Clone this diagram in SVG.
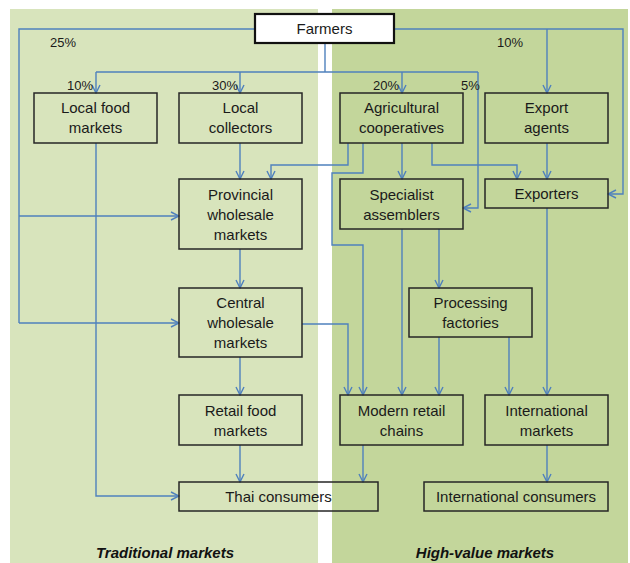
<svg xmlns="http://www.w3.org/2000/svg" width="630" height="563" viewBox="0 0 630 563">
  <style>
    .box { fill: none; stroke: #262626; stroke-width: 1.5; }
    .lbl { font-family: "Liberation Sans", Arial, sans-serif; font-size: 15px; fill: #1a1a1a; text-anchor: middle; }
    .pct { font-family: "Liberation Sans", Arial, sans-serif; font-size: 13px; fill: #1a1a1a; }
    .zone { font-family: "Liberation Sans", Arial, sans-serif; font-size: 15px; font-weight: bold; font-style: italic; fill: #111; text-anchor: middle; }
    .edge { fill: none; stroke: #4f81bd; stroke-width: 1.4; marker-end: url(#arr); }
    .line { fill: none; stroke: #4f81bd; stroke-width: 1.4; }
  </style>
  <defs>
    <marker id="arr" viewBox="0 0 10 10" refX="9" refY="5" markerWidth="10" markerHeight="10" markerUnits="userSpaceOnUse" orient="auto">
      <path d="M1,1 L9,5 L1,9" fill="none" stroke="#4f81bd" stroke-width="1.4"/>
    </marker>
  </defs>

  <rect width="630" height="563" fill="#ffffff"/>
  <!-- market zones -->
  <rect x="10" y="9" width="308" height="554" fill="#d8e4bc"/>
  <rect x="332" y="9" width="296" height="554" fill="#c3d69b"/>

  <g id="connectors">
    <!-- Farmers: outer left trunk -->
    <path class="line" d="M255,29 H19 V323"/>
    <path class="edge" d="M19,216 H179"/>
    <path class="edge" d="M19,323 H179"/>
    <!-- Farmers: outer right trunk -->
    <path class="edge" d="M394,29 H623 V194 H608"/>
    <path class="edge" d="M547,29 V93"/>
    <!-- Farmers: middle bus -->
    <path class="line" d="M325,43 V72"/>
    <path class="line" d="M96,72 H478"/>
    <path class="edge" d="M96,72 V93"/>
    <path class="edge" d="M240,72 V93"/>
    <path class="edge" d="M402,72 V93"/>
    <path class="edge" d="M478,72 V208 H463"/>
    <!-- traditional chain -->
    <path class="edge" d="M96,143 V496 H179"/>
    <path class="edge" d="M240,143 V179"/>
    <path class="edge" d="M240,249 V288"/>
    <path class="edge" d="M240,357 V395"/>
    <path class="edge" d="M240,445 V482"/>
    <!-- cooperatives outflows -->
    <path class="edge" d="M348,143 V165 H271 V179"/>
    <path class="edge" d="M363,143 V173 H332 V245 H363 V395"/>
    <path class="edge" d="M402,143 V179"/>
    <path class="edge" d="M432,143 V165 H517 V179"/>
    <path class="edge" d="M547,143 V179"/>
    <!-- high-value chain -->
    <path class="edge" d="M302,324 H348 V395"/>
    <path class="edge" d="M402,229 V395"/>
    <path class="edge" d="M439,229 V288"/>
    <path class="edge" d="M439,337 V395"/>
    <path class="edge" d="M509,337 V395"/>
    <path class="edge" d="M547,208 V395"/>
    <path class="edge" d="M363,445 V482"/>
    <path class="edge" d="M547,445 V482"/>
  </g>

  <g id="farmers">
    <rect x="255" y="14" width="139" height="29" fill="#ffffff" stroke="#111" stroke-width="2.2"/>
    <text class="lbl" x="324.5" y="34">Farmers</text>
  </g>
  <g id="local-food-markets">
    <rect class="box" x="34" y="93" width="123" height="50"/>
    <text class="lbl" x="95.5" y="113">Local food</text>
    <text class="lbl" x="95.5" y="133">markets</text>
  </g>
  <g id="local-collectors">
    <rect class="box" x="179" y="93" width="123" height="50"/>
    <text class="lbl" x="240.5" y="113">Local</text>
    <text class="lbl" x="240.5" y="133">collectors</text>
  </g>
  <g id="agricultural-cooperatives">
    <rect class="box" x="340" y="93" width="123" height="50"/>
    <text class="lbl" x="401.5" y="113">Agricultural</text>
    <text class="lbl" x="401.5" y="133">cooperatives</text>
  </g>
  <g id="export-agents">
    <rect class="box" x="485" y="93" width="123" height="50"/>
    <text class="lbl" x="546.5" y="113">Export</text>
    <text class="lbl" x="546.5" y="133">agents</text>
  </g>
  <g id="provincial-wholesale">
    <rect class="box" x="179" y="179" width="123" height="70"/>
    <text class="lbl" x="240.5" y="200">Provincial</text>
    <text class="lbl" x="240.5" y="220">wholesale</text>
    <text class="lbl" x="240.5" y="240">markets</text>
  </g>
  <g id="specialist-assemblers">
    <rect class="box" x="340" y="179" width="123" height="50"/>
    <text class="lbl" x="401.5" y="200">Specialist</text>
    <text class="lbl" x="401.5" y="220">assemblers</text>
  </g>
  <g id="exporters">
    <rect class="box" x="485" y="179" width="123" height="29"/>
    <text class="lbl" x="546.5" y="199">Exporters</text>
  </g>
  <g id="central-wholesale">
    <rect class="box" x="179" y="288" width="123" height="69"/>
    <text class="lbl" x="240.5" y="308">Central</text>
    <text class="lbl" x="240.5" y="328">wholesale</text>
    <text class="lbl" x="240.5" y="348">markets</text>
  </g>
  <g id="processing-factories">
    <rect class="box" x="409" y="288" width="123" height="49"/>
    <text class="lbl" x="470.5" y="308">Processing</text>
    <text class="lbl" x="470.5" y="328">factories</text>
  </g>
  <g id="retail-food-markets">
    <rect class="box" x="179" y="395" width="123" height="50"/>
    <text class="lbl" x="240.5" y="416">Retail food</text>
    <text class="lbl" x="240.5" y="436">markets</text>
  </g>
  <g id="modern-retail-chains">
    <rect class="box" x="340" y="395" width="123" height="50"/>
    <text class="lbl" x="401.5" y="416">Modern retail</text>
    <text class="lbl" x="401.5" y="436">chains</text>
  </g>
  <g id="international-markets">
    <rect class="box" x="485" y="395" width="123" height="50"/>
    <text class="lbl" x="546.5" y="416">International</text>
    <text class="lbl" x="546.5" y="436">markets</text>
  </g>
  <g id="thai-consumers">
    <rect class="box" x="179" y="482" width="199" height="29"/>
    <text class="lbl" x="278.5" y="502">Thai consumers</text>
  </g>
  <g id="international-consumers">
    <rect class="box" x="424" y="482" width="184" height="29"/>
    <text class="lbl" x="516" y="502">International consumers</text>
  </g>

  <g id="shares">
    <text class="pct" x="50" y="47">25%</text>
    <text class="pct" x="67" y="90">10%</text>
    <text class="pct" x="212" y="90">30%</text>
    <text class="pct" x="373" y="90">20%</text>
    <text class="pct" x="461" y="90">5%</text>
    <text class="pct" x="497" y="47">10%</text>
  </g>

  <text class="zone" x="165" y="558">Traditional markets</text>
  <text class="zone" x="485" y="558">High-value markets</text>
</svg>
